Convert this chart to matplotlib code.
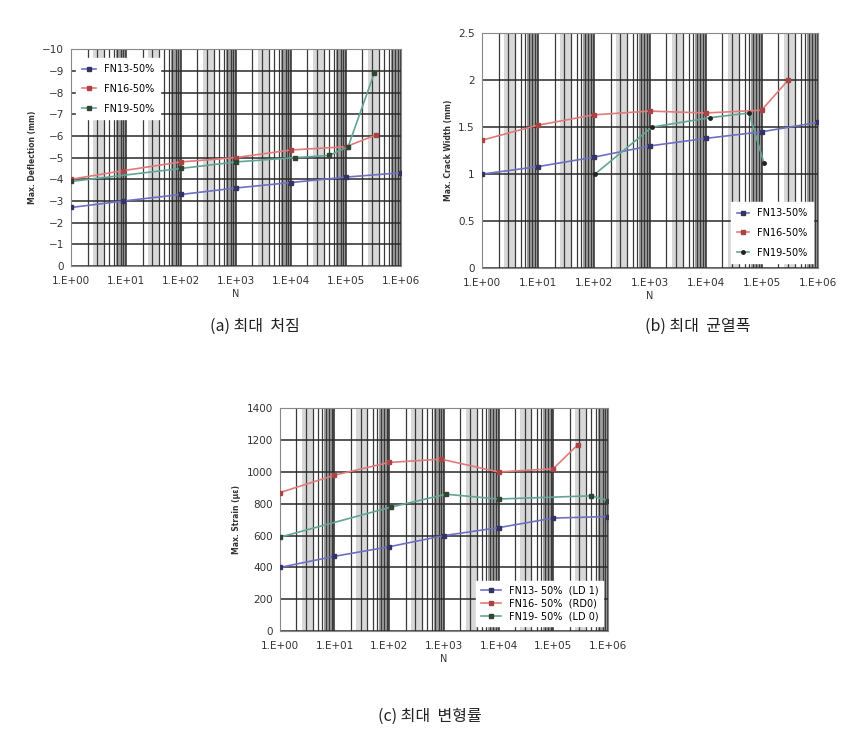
import numpy as np
import matplotlib.pyplot as plt

plt.rcParams['font.family'] = ['DejaVu Sans', 'Noto Sans CJK KR']

# (a) max deflection
xa13 = [1, 9, 100, 1000, 1e4, 1e5, 1e6]
ya13 = [-2.7, -3.0, -3.3, -3.6, -3.85, -4.1, -4.3]
xa16 = [1, 9, 100, 1000, 1e4, 1e5, 3.6e5]
ya16 = [-4.0, -4.4, -4.8, -5.0, -5.35, -5.5, -6.05]
xa19 = [1, 100, 1000, 1.2e4, 5e4, 1.1e5, 3.3e5]
ya19 = [-3.9, -4.5, -4.8, -5.0, -5.1, -5.5, -8.9]

# (b) max crack width
xb13 = [1, 10, 100, 1000, 1e4, 1e5, 1e6]
yb13 = [1.0, 1.08, 1.18, 1.3, 1.38, 1.45, 1.55]
xb16 = [1, 10, 100, 1000, 1e4, 1e5, 3e5]
yb16 = [1.36, 1.52, 1.63, 1.67, 1.65, 1.68, 2.0]
xb19 = [105, 1100, 1.2e4, 6e4, 1.1e5]
yb19 = [1.0, 1.5, 1.6, 1.65, 1.12]

# (c) max strain
xc13 = [1, 10, 100, 1000, 1e4, 1e5, 1e6]
yc13 = [400, 470, 530, 600, 650, 710, 720]
xc16 = [1, 10, 100, 900, 1e4, 1e5, 2.8e5]
yc16 = [870, 980, 1060, 1080, 1000, 1020, 1170]
xc19 = [1, 110, 1100, 1e4, 5e5, 1e6]
yc19 = [590, 780, 860, 830, 850, 820]

xticks = [1, 1e1, 1e2, 1e3, 1e4, 1e5, 1e6]
xticklabels = ['1.E+00', '1.E+01', '1.E+02', '1.E+03', '1.E+04', '1.E+05', '1.E+06']

c_blue = '#6f6fc4'
c_red = '#e27a7a'
c_green = '#62a595'


def setup(ax, ylim, yticks, ylabel):
    ax.set_xscale('log')
    ax.set_xlim(1, 1e6)
    ax.set_ylim(*ylim)
    ax.set_yticks(yticks)
    ax.set_xticks(xticks)
    ax.set_xticklabels(xticklabels)
    ax.minorticks_on()
    ax.tick_params(which='both', length=0, labelsize=7.5, colors='#333333')
    ax.tick_params(axis='x', pad=7)
    ax.tick_params(axis='y', pad=5)
    for k in range(6):
        ax.axvspan(0.65 * 10 ** (k + 1), 10 ** (k + 1), color='#a0a0a0', lw=0, zorder=0)
        ax.axvspan(0.25 * 10 ** (k + 1), 0.4 * 10 ** (k + 1), color='#d8d8d8', lw=0, zorder=0)
    ax.grid(True, which='major', axis='both', color='#2a2a2a', lw=1.1, zorder=1)
    ax.grid(True, which='minor', axis='x', color='#3a3a3a', lw=0.9, zorder=1)
    ax.set_axisbelow(True)
    for s in ax.spines.values():
        s.set_color('#888888')
        s.set_linewidth(0.8)
    ax.set_xlabel('N', fontsize=7, labelpad=2, color='#333333')
    ax.set_ylabel(ylabel, fontsize=5.5, labelpad=4, color='#333333', fontweight='bold')


fig = plt.figure(figsize=(8.61, 7.33), dpi=100)

ax1 = fig.add_axes([0.0825, 0.637, 0.383, 0.296])
setup(ax1, (0, -10), np.arange(0, -11, -1), 'Max. Deflection (mm)')
ax1.plot(xa13, ya13, '-', color=c_blue, lw=1.2, marker='s', ms=2.5, mfc='#333366', mec='#333366', label='FN13-50%', zorder=3)
ax1.plot(xa16, ya16, '-', color=c_red, lw=1.2, marker='s', ms=2.5, mfc='#aa4444', mec='#aa4444', label='FN16-50%', zorder=3)
ax1.plot(xa19, ya19, '-', color=c_green, lw=1.2, marker='s', ms=3, mfc='#334433', mec='#334433', label='FN19-50%', zorder=3)
leg = ax1.legend(loc='upper left', bbox_to_anchor=(0.0, 0.98), fontsize=7, frameon=True,
                 fancybox=False, edgecolor='white', framealpha=1, handlelength=1.5,
                 labelspacing=1.0, borderpad=0.6)

ax2 = fig.add_axes([0.5595, 0.634, 0.390, 0.321])
setup(ax2, (0, 2.5), [0, 0.5, 1, 1.5, 2, 2.5], 'Max. Crack Width (mm)')
ax2.set_yticklabels(['0', '0.5', '1', '1.5', '2', '2.5'])
ax2.plot(xb13, yb13, '-', color=c_blue, lw=1.2, marker='s', ms=2.5, mfc='#333366', mec='#333366', label='FN13-50%', zorder=3)
ax2.plot(xb16, yb16, '-', color=c_red, lw=1.2, marker='s', ms=2.5, mfc='#aa4444', mec='#aa4444', label='FN16-50%', zorder=3)
ax2.plot(xb19, yb19, '-', color=c_green, lw=1.2, marker='o', ms=2.5, mfc='#222222', mec='#222222', label='FN19-50%', zorder=3)
ax2.legend(loc='lower right', bbox_to_anchor=(1.0, 0.0), fontsize=7, frameon=True,
           fancybox=False, edgecolor='white', framealpha=1, handlelength=1.2,
           labelspacing=1.0, borderpad=0.6)

ax3 = fig.add_axes([0.325, 0.139, 0.381, 0.304])
setup(ax3, (0, 1400), np.arange(0, 1401, 200), 'Max. Strain (με)')
ax3.plot(xc13, yc13, '-', color=c_blue, lw=1.2, marker='s', ms=2.5, mfc='#333366', mec='#333366', label='FN13- 50%  (LD 1)', zorder=3)
ax3.plot(xc16, yc16, '-', color=c_red, lw=1.2, marker='s', ms=2.5, mfc='#aa4444', mec='#aa4444', label='FN16- 50%  (RD0)', zorder=3)
ax3.plot(xc19, yc19, '-', color=c_green, lw=1.2, marker='s', ms=3, mfc='#334433', mec='#334433', label='FN19- 50%  (LD 0)', zorder=3)
ax3.legend(loc='lower right', bbox_to_anchor=(1.0, 0.0), fontsize=7, frameon=True,
           fancybox=False, edgecolor='white', framealpha=1, handlelength=2.0,
           labelspacing=0.3, borderpad=0.5)

cap = dict(fontsize=11.5, ha='center', va='center', family=['Noto Sans CJK KR', 'DejaVu Sans'], color='#222222')
fig.text(255 / 861, 1 - 326 / 733, '(a) 최대  처짐', **cap)
fig.text(698 / 861, 1 - 326 / 733, '(b) 최대  균열폭', **cap)
fig.text(430 / 861, 1 - 716 / 733, '(c) 최대  변형률', **cap)

fig.savefig('out.png', dpi=100)
